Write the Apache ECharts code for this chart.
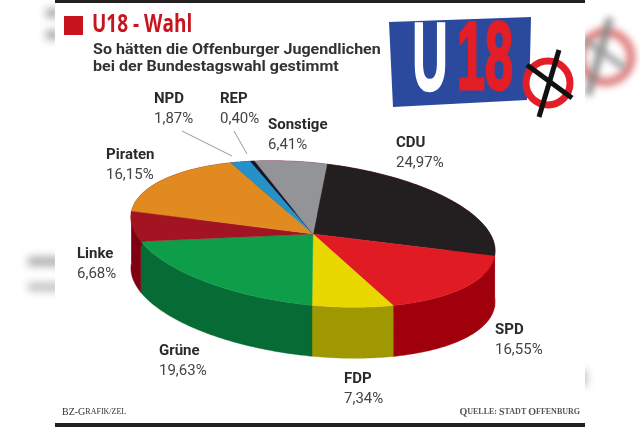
<!DOCTYPE html>
<html><head><meta charset="utf-8">
<style>html,body{margin:0;padding:0;background:#fff}#c{width:640px;height:427px}</style>
<script src="https://cdn.jsdelivr.net/npm/echarts@6/dist/echarts.min.js"></script>
</head><body><div id="c"></div>
<script>
var categories = ['CDU','SPD','FDP','Grüne','Linke','Piraten','NPD','REP','Sonstige'];
var values = [24.97,16.55,7.34,19.63,6.68,16.15,1.87,0.40,6.41];
var topColors = ['#231f20','#e01b24','#e8d800','#0e9e4a','#a31422','#e08a20','#2492c8','#15152a','#929497'];
var sideColors = ['#a0000c','#a0000c','#a09800','#066b35','#7f0012','#7f0012','#7f0012','#7f0012','#7f0012'];
var labelPos = [[396,143],[495,330],[344,379],[159,351],[77,254],[106,155],[154,99],[220,99],[268,125]];

var CX=313, CY=234, A=183, B=71, TILT=6.2*Math.PI/180, DEPTH=51, START=-88;
var total = values.reduce(function(s,v){return s+v;},0);
var cum=[0]; values.forEach(function(v,i){cum.push(cum[i]+v);});
function ang(p){return echarts.number.linearMap(p,[0,total],[START,START+360],false);}
function pt(deg,dy){
  var t=deg*Math.PI/180, u=A*Math.cos(t), v=B*Math.sin(t);
  return [CX+u*Math.cos(TILT)-v*Math.sin(TILT), CY+u*Math.sin(TILT)+v*Math.cos(TILT)+(dy||0)];
}
function arc(a0,a1,dy){
  var pts=[], n=Math.max(2,Math.ceil(Math.abs(a1-a0)));
  for(var k=0;k<=n;k++) pts.push(pt(a0+(a1-a0)*k/n,dy));
  return pts;
}
var rows = values.map(function(v,i){return {name:categories[i],value:[cum[i],cum[i+1]]};});
function topItem(params,api){
  var a0=ang(api.value(0)),a1=ang(api.value(1));
  var c=topColors[params.dataIndex];
  return {type:'polygon',shape:{points:[[CX,CY]].concat(arc(a0,a1,0))},style:{fill:c,stroke:c,lineWidth:0.4}};
}
function sideItem(params,api){
  var a0=ang(api.value(0)),a1=ang(api.value(1));
  var c=sideColors[params.dataIndex];
  return {type:'polygon',shape:{points:arc(a0,a1,0).concat(arc(a0,a1,DEPTH).reverse())},style:{fill:c,stroke:c,lineWidth:0.4}};
}
function fmt(v){return v.toFixed(2).replace('.',',')+'%';}
var FONT='Roboto';
var OFF=2000;
function ghostRect(x,y,w,h,col,blur){
  return {type:'rect',z:0,shape:{x:x-OFF,y:y,width:w,height:h},style:{fill:'#000',shadowBlur:blur,shadowColor:col,shadowOffsetX:OFF}};
}
function ghostLine(x1,y1,x2,y2,col,lw,blur){
  return {type:'line',z:0,shape:{x1:x1-OFF,y1:y1,x2:x2-OFF,y2:y2},style:{stroke:'#000',lineWidth:lw,shadowBlur:blur,shadowColor:col,shadowOffsetX:OFF}};
}
var graphics=[
 ghostRect(46,9,14,8,'#999',8),
 ghostRect(46,31,14,8,'#999',8),
 ghostRect(28,257,34,9,'#aaa',8),
 ghostRect(28,283,34,8,'#bbb',8),
 ghostRect(579,370,7,16,'#aaa',8),
 {type:'circle',z:0,shape:{cx:606-OFF,cy:57,r:25},style:{fill:'none',stroke:'#000',lineWidth:9,shadowBlur:7,shadowColor:'#e07f7f',shadowOffsetX:OFF}},
 ghostLine(610,18,588,95,'#888',7,7),
 ghostLine(585,40,625,68,'#999',6,7),
 {type:'rect',z:1,shape:{x:55,y:0,width:530,height:427},style:{fill:'#fff'}},
 {type:'rect',z:2,shape:{x:55,y:0,width:530,height:3},style:{fill:'#231f20'}},
 {type:'rect',z:2,shape:{x:55,y:423,width:530,height:4},style:{fill:'#231f20'}},
 {type:'rect',z:2,shape:{x:64,y:16,width:19,height:19},style:{fill:'#c8141e'}},
 {type:'text',z:2,x:92,y:25,scaleX:0.76,style:{text:'U18 - Wahl',fill:'#c8141e',fontFamily:'Open Sans',fontWeight:700,fontSize:25,verticalAlign:'middle'}},
 {type:'text',z:2,x:93,y:50,scaleX:1.07,style:{text:'So hätten die Offenburger Jugendlichen',fill:'#333',fontFamily:FONT,fontWeight:700,fontSize:15,verticalAlign:'middle'}},
 {type:'text',z:2,x:93,y:67,scaleX:1.07,style:{text:'bei der Bundestagswahl gestimmt',fill:'#333',fontFamily:FONT,fontWeight:700,fontSize:15,verticalAlign:'middle'}},
 {type:'polygon',z:2,shape:{points:[[389,22],[531,17],[530,60],[527,100],[393,107]]},style:{fill:'#2b4a9e'}},
 {type:'text',z:3,x:430,y:63,scaleX:0.5,style:{text:'U',fill:'#fff',stroke:'#fff',lineWidth:2.5,fontFamily:'Liberation Sans',fontWeight:700,fontSize:97,align:'center',verticalAlign:'middle'}},
 {type:'text',z:3,x:485,y:62,scaleX:0.52,style:{text:'18',fill:'#e41e26',stroke:'#e41e26',lineWidth:3,fontFamily:'Liberation Sans',fontWeight:700,fontSize:97,align:'center',verticalAlign:'middle'}},
 {type:'circle',z:3,shape:{cx:548,cy:83,r:22},style:{fill:'#fff',stroke:'#e41e26',lineWidth:7}},
 {type:'line',z:4,shape:{x1:527,y1:65,x2:572,y2:98},style:{stroke:'#111',lineWidth:5}},
 {type:'line',z:4,shape:{x1:559,y1:50,x2:539,y2:117},style:{stroke:'#111',lineWidth:5}},
 {type:'line',z:2,shape:{x1:182,y1:131,x2:232,y2:156},style:{stroke:'#999',lineWidth:1}},
 {type:'line',z:2,shape:{x1:234,y1:131,x2:247,y2:154},style:{stroke:'#999',lineWidth:1}},
 {type:'text',z:2,x:62,y:412,style:{text:'{b|BZ-G}{s|RAFIK/ZEL}',fill:'#333',verticalAlign:'middle',rich:{b:{fontFamily:'Liberation Serif',fontSize:10,fill:'#333'},s:{fontFamily:'Liberation Serif',fontSize:8,fill:'#333'}}}},
 {type:'text',z:2,x:580,y:412,style:{text:'{b|Q}{s|UELLE: }{b|S}{s|TADT }{b|O}{s|FFENBURG}',fill:'#555',align:'right',verticalAlign:'middle',rich:{b:{fontFamily:'Liberation Serif',fontWeight:700,fontSize:10,fill:'#555'},s:{fontFamily:'Liberation Serif',fontWeight:700,fontSize:8,fill:'#555'}}}}
];
categories.forEach(function(n,i){
  graphics.push({type:'text',z:5,x:labelPos[i][0],y:labelPos[i][1],style:{text:n,fill:'#2a2a2c',fontFamily:FONT,fontWeight:700,fontSize:15,verticalAlign:'middle'}});
  graphics.push({type:'text',z:5,x:labelPos[i][0],y:labelPos[i][1]+20,style:{text:fmt(values[i]),fill:'#444',fontFamily:FONT,fontSize:15,verticalAlign:'middle'}});
});
var chart=echarts.init(document.getElementById('c'),null,{renderer:'canvas'});
chart.setOption({
  animation:false,
  backgroundColor:'#fff',
  graphic:{elements:graphics},
  series:[
   {type:'custom',coordinateSystem:'none',z:10,silent:true,data:rows,renderItem:sideItem,encode:{value:[0,1]},clip:false},
   {type:'custom',coordinateSystem:'none',z:11,silent:true,data:rows,renderItem:topItem,encode:{value:[0,1]},clip:false}
  ]
});
</script></body></html>
